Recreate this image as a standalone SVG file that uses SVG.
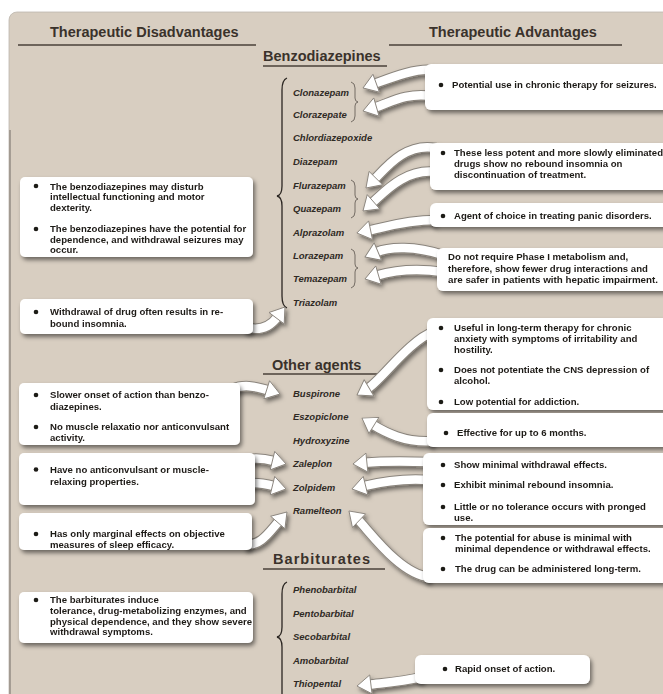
<svg xmlns="http://www.w3.org/2000/svg" width="663" height="694" viewBox="0 0 663 694">
<defs>
<style>
.h{font-family:"Liberation Sans",Arial,sans-serif;font-weight:bold;font-size:14.5px;fill:#3a322b}
.d{font-family:"Liberation Sans",Arial,sans-serif;font-weight:bold;font-style:italic;font-size:9.5px;fill:#2f2a25}
.t{font-family:"Liberation Sans",Arial,sans-serif;font-weight:bold;font-size:9.6px;fill:#1e1a17}
.ul{stroke:#4a4038;stroke-width:1.4}
.br{fill:none;stroke:#2b2622;stroke-width:1.3}
.sb{fill:none;stroke:#5a534c;stroke-width:0.8}
.box{fill:#ffffff}
.bu{fill:#1e1a17}
.ao{fill:none;stroke:#8a847c;stroke-width:10.5}
.af{fill:none;stroke:#ffffff;stroke-width:8.5;marker-end:url(#ah)}
</style>
<marker id="ah" markerUnits="userSpaceOnUse" orient="auto" refX="2" refY="0" markerWidth="16" markerHeight="22" overflow="visible">
<path d="M0,-9.5 L14,0 L0,9.5 Z" fill="#ffffff" stroke="#8a847c" stroke-width="0.9" stroke-linejoin="round"/>
</marker>
<filter id="sh" x="-10%" y="-20%" width="130%" height="160%">
<feDropShadow dx="2" dy="3" stdDeviation="2.2" flood-color="#000" flood-opacity="0.5"/>
</filter>
</defs>
<rect x="0" y="0" width="663" height="694" fill="#ffffff"/>
<rect x="9" y="12" width="680" height="700" rx="8" fill="#d8cec1" stroke="#bdb6ad" stroke-width="0.8"/>
<line x1="10" y1="130" x2="10" y2="694" stroke="#958d84" stroke-width="1.5"/>

<g id="headers">
<text class="h" x="50" y="37">Therapeutic Disadvantages</text>
<line class="ul" x1="18" y1="45" x2="256" y2="45"/>
<text class="h" x="429" y="37">Therapeutic Advantages</text>
<line class="ul" x1="389" y1="45" x2="622" y2="45"/>
<text class="h" x="263" y="61">Benzodiazepines</text>
<line class="ul" x1="263" y1="66" x2="387" y2="66"/>
<text class="h" x="272" y="370">Other agents</text>
<line class="ul" x1="263" y1="374" x2="385" y2="374"/>
<text class="h" x="273" y="564" textLength="97">Barbiturates</text>
<line class="ul" x1="263" y1="569" x2="385" y2="569"/>
</g>

<g id="braces">
<path class="br" d="M287,78 Q282,80 282,90 L282,186 Q282,195 277,196 Q282,197 282,206 L282,296 Q282,306 287,308"/>
<path class="br" d="M287,582 Q282,584 282,594 L282,627 Q282,636 277,637 Q282,638 282,647 L282,700"/>
<path class="sb" d="M351,82 Q355,83 355,88 L355,98 Q355,101.5 358,102 Q355,102.5 355,106 L355,116 Q355,121 351,122"/>
<path class="sb" d="M351,180 Q355,181 355,186 L355,195 Q355,198.5 358,199 Q355,199.5 355,203 L355,212 Q355,217 351,218"/>
<path class="sb" d="M351,249 Q355,250 355,255 L355,264 Q355,267.5 358,268 Q355,268.5 355,272 L355,282 Q355,287 351,288"/>
</g>

<g id="drug-clonazepam"><text class="d" x="293" y="96.3">Clonazepam</text></g>
<g id="drug-clorazepate"><text class="d" x="293" y="118.3">Clorazepate</text></g>
<g id="drug-chlordiazepoxide"><text class="d" x="293" y="141.3">Chlordiazepoxide</text></g>
<g id="drug-diazepam"><text class="d" x="293" y="165.3">Diazepam</text></g>
<g id="drug-flurazepam"><text class="d" x="293" y="189.3">Flurazepam</text></g>
<g id="drug-quazepam"><text class="d" x="293" y="212.3">Quazepam</text></g>
<g id="drug-alprazolam"><text class="d" x="293" y="236.3">Alprazolam</text></g>
<g id="drug-lorazepam"><text class="d" x="293" y="259.3">Lorazepam</text></g>
<g id="drug-temazepam"><text class="d" x="293" y="282.3">Temazepam</text></g>
<g id="drug-triazolam"><text class="d" x="293" y="306.3">Triazolam</text></g>
<g id="drug-buspirone"><text class="d" x="293" y="397.3">Buspirone</text></g>
<g id="drug-eszopiclone"><text class="d" x="293" y="420.3">Eszopiclone</text></g>
<g id="drug-hydroxyzine"><text class="d" x="293" y="444.3">Hydroxyzine</text></g>
<g id="drug-zaleplon"><text class="d" x="293" y="467.3">Zaleplon</text></g>
<g id="drug-zolpidem"><text class="d" x="293" y="491.3">Zolpidem</text></g>
<g id="drug-ramelteon"><text class="d" x="293" y="514.3">Ramelteon</text></g>
<g id="drug-phenobarbital"><text class="d" x="293" y="593.3">Phenobarbital</text></g>
<g id="drug-pentobarbital"><text class="d" x="293" y="617.3">Pentobarbital</text></g>
<g id="drug-secobarbital"><text class="d" x="293" y="640.3">Secobarbital</text></g>
<g id="drug-amobarbital"><text class="d" x="293" y="664.3">Amobarbital</text></g>
<g id="drug-thiopental"><text class="d" x="293" y="687.3">Thiopental</text></g>

<g id="connectors" filter="url(#sh)">
<g id="connector-outlines">
<path class="ao" d="M432,70 C415,68 388.4,78.8 374.3,83.9"/>
<path class="ao" d="M432,96 C405,92 388.9,103.4 374.5,107.6"/>
<path class="ao" d="M436,148 C405,142 384.9,168.9 374.4,179.5"/>
<path class="ao" d="M436,172 C405,168 383.3,193.2 372,203.1"/>
<path class="ao" d="M436,220 C405,220 383.2,227.6 368.6,230.6"/>
<path class="ao" d="M443,255 C415,246 389.8,246.5 376,252.3"/>
<path class="ao" d="M443,272 C415,268 390.9,271.4 376.5,275.6"/>
<path class="ao" d="M433,332 C410,340 380.2,381.2 367.3,388.9"/>
<path class="ao" d="M433,441 C405,443 385,432.3 372.2,424.4"/>
<path class="ao" d="M430,462 C400,461 379.8,461.3 364.9,462.8"/>
<path class="ao" d="M430,480 C405,478 378.2,482.5 363.6,486.1"/>
<path class="ao" d="M430,577 C400,575 368.4,529.7 357.6,519.3"/>
<path class="ao" d="M422,677 C400,682 383.8,682.8 368.9,684.6"/>
<path class="ao" d="M245,327 C258,331 268.8,328.6 277.8,316.6"/>
<path class="ao" d="M232,389 C243,384 254.3,385.9 268.6,390.4"/>
<path class="ao" d="M245,460 C252,458 259.8,457.5 274.4,461.1"/>
<path class="ao" d="M245,484 C252,482 259.8,482.5 274.4,486.1"/>
<path class="ao" d="M245,544 C260,547 269.2,532.3 279.1,521"/>
</g>
<g id="connector-fills">
<path class="af" d="M432,70 C415,68 388.4,78.8 374.3,83.9"/>
<path class="af" d="M432,96 C405,92 388.9,103.4 374.5,107.6"/>
<path class="af" d="M436,148 C405,142 384.9,168.9 374.4,179.5"/>
<path class="af" d="M436,172 C405,168 383.3,193.2 372,203.1"/>
<path class="af" d="M436,220 C405,220 383.2,227.6 368.6,230.6"/>
<path class="af" d="M443,255 C415,246 389.8,246.5 376,252.3"/>
<path class="af" d="M443,272 C415,268 390.9,271.4 376.5,275.6"/>
<path class="af" d="M433,332 C410,340 380.2,381.2 367.3,388.9"/>
<path class="af" d="M433,441 C405,443 385,432.3 372.2,424.4"/>
<path class="af" d="M430,462 C400,461 379.8,461.3 364.9,462.8"/>
<path class="af" d="M430,480 C405,478 378.2,482.5 363.6,486.1"/>
<path class="af" d="M430,577 C400,575 368.4,529.7 357.6,519.3"/>
<path class="af" d="M422,677 C400,682 383.8,682.8 368.9,684.6"/>
<path class="af" d="M245,327 C258,331 268.8,328.6 277.8,316.6"/>
<path class="af" d="M232,389 C243,384 254.3,385.9 268.6,390.4"/>
<path class="af" d="M245,460 C252,458 259.8,457.5 274.4,461.1"/>
<path class="af" d="M245,484 C252,482 259.8,482.5 274.4,486.1"/>
<path class="af" d="M245,544 C260,547 269.2,532.3 279.1,521"/>
</g>
</g>

<g id="box-l1" filter="url(#sh)">
<rect class="box" x="20" y="177" width="233" height="80" rx="5"/>
<circle class="bu" cx="36" cy="186" r="2.3"/>
<text class="t" x="50" y="189.5">The benzodiazepines may disturb</text>
<text class="t" x="50" y="200.3">intellectual functioning and motor</text>
<text class="t" x="50" y="211">dexterity.</text>
<circle class="bu" cx="36" cy="229" r="2.3"/>
<text class="t" x="50" y="232">The benzodiazepines have the potential for</text>
<text class="t" x="50" y="242.6">dependence, and withdrawal seizures may</text>
<text class="t" x="50" y="253">occur.</text>
</g>
<g id="box-l2" filter="url(#sh)">
<rect class="box" x="20" y="299" width="233" height="35" rx="5"/>
<circle class="bu" cx="36" cy="312" r="2.3"/>
<text class="t" x="50" y="315.3">Withdrawal of drug often results in re-</text>
<text class="t" x="50" y="326.5">bound insomnia.</text>
</g>
<g id="box-l3" filter="url(#sh)">
<rect class="box" x="19" y="383" width="221" height="62" rx="5"/>
<circle class="bu" cx="36" cy="395" r="2.3"/>
<text class="t" x="50" y="398.3">Slower onset of action than benzo-</text>
<text class="t" x="50" y="409.5">diazepines.</text>
<circle class="bu" cx="36" cy="427" r="2.3"/>
<text class="t" x="50" y="430.2">No muscle relaxatio nor anticonvulsant</text>
<text class="t" x="50" y="441.2">activity.</text>
</g>
<g id="box-l4" filter="url(#sh)">
<rect class="box" x="19" y="453" width="236" height="52" rx="5"/>
<circle class="bu" cx="36" cy="469.5" r="2.3"/>
<text class="t" x="50" y="472.7">Have no anticonvulsant or muscle-</text>
<text class="t" x="50" y="484.5">relaxing properties.</text>
</g>
<g id="box-l5" filter="url(#sh)">
<rect class="box" x="19" y="513" width="233" height="37" rx="5"/>
<circle class="bu" cx="36" cy="534" r="2.3"/>
<text class="t" x="50" y="537.4">Has only marginal effects on objective</text>
<text class="t" x="50" y="548.2">measures of sleep efficacy.</text>
</g>
<g id="box-l6" filter="url(#sh)">
<rect class="box" x="19" y="592" width="234" height="51" rx="5"/>
<circle class="bu" cx="36" cy="600" r="2.3"/>
<text class="t" x="50" y="603.4">The barbiturates induce</text>
<text class="t" x="50" y="614">tolerance, drug-metabolizing enzymes, and</text>
<text class="t" x="50" y="624.6">physical dependence, and they show severe</text>
<text class="t" x="50" y="635.2">withdrawal symptoms.</text>
</g>

<g id="box-r1" filter="url(#sh)">
<rect class="box" x="425" y="64" width="250" height="46" rx="6"/>
<circle class="bu" cx="441" cy="85" r="2.3"/>
<text class="t" x="452" y="88.4">Potential use in chronic therapy for seizures.</text>
</g>
<g id="box-r2" filter="url(#sh)">
<rect class="box" x="430" y="143" width="245" height="47" rx="6"/>
<circle class="bu" cx="443" cy="153" r="2.3"/>
<text class="t" x="454" y="156.4">These less potent and more slowly eliminated</text>
<text class="t" x="454" y="167.2">drugs show no rebound insomnia on</text>
<text class="t" x="454" y="178">discontinuation of  treatment.</text>
</g>
<g id="box-r3" filter="url(#sh)">
<rect class="box" x="430" y="203" width="245" height="24" rx="6"/>
<circle class="bu" cx="443" cy="216" r="2.3"/>
<text class="t" x="454" y="219.4">Agent of choice in treating panic disorders.</text>
</g>
<g id="box-r4" filter="url(#sh)">
<rect class="box" x="437" y="248" width="238" height="43" rx="6"/>
<text class="t" x="448" y="260.4">Do not require Phase I metabolism and,</text>
<text class="t" x="448" y="271.8">therefore, show fewer drug interactions and</text>
<text class="t" x="448" y="283" textLength="210" lengthAdjust="spacingAndGlyphs">are safer in patients with hepatic impairment.</text>
</g>
<g id="box-r5" filter="url(#sh)">
<rect class="box" x="427" y="318" width="248" height="92" rx="6"/>
<circle class="bu" cx="441" cy="328" r="2.3"/>
<text class="t" x="454" y="331.4">Useful in long-term therapy for chronic</text>
<text class="t" x="454" y="342.2">anxiety with symptoms of irritability and</text>
<text class="t" x="454" y="353">hostility.</text>
<circle class="bu" cx="441" cy="370" r="2.3"/>
<text class="t" x="454" y="373.4">Does not potentiate the CNS depression of</text>
<text class="t" x="454" y="384">alcohol.</text>
<circle class="bu" cx="441" cy="402" r="2.3"/>
<text class="t" x="454" y="405.2">Low potential for addiction.</text>
</g>
<g id="box-r6" filter="url(#sh)">
<rect class="box" x="427" y="413" width="248" height="34" rx="6"/>
<circle class="bu" cx="446" cy="433" r="2.3"/>
<text class="t" x="457" y="436.4">Effective for up to 6 months.</text>
</g>
<g id="box-r7" filter="url(#sh)">
<rect class="box" x="423" y="453" width="252" height="72" rx="6"/>
<circle class="bu" cx="443" cy="465" r="2.3"/>
<text class="t" x="454" y="468.4">Show minimal withdrawal effects.</text>
<circle class="bu" cx="443" cy="485" r="2.3"/>
<text class="t" x="454" y="488.4">Exhibit minimal rebound insomnia.</text>
<circle class="bu" cx="443" cy="507" r="2.3"/>
<text class="t" x="454" y="510.4">Little or no tolerance occurs with pronged</text>
<text class="t" x="454" y="520.6">use.</text>
</g>
<g id="box-r8" filter="url(#sh)">
<rect class="box" x="423" y="528" width="252" height="55" rx="6"/>
<circle class="bu" cx="443" cy="538" r="2.3"/>
<text class="t" x="455" y="541.2">The potential for abuse is minimal with</text>
<text class="t" x="455" y="552">minimal dependence or withdrawal effects.</text>
<circle class="bu" cx="443" cy="569" r="2.3"/>
<text class="t" x="455" y="572.4">The drug can be administered long-term.</text>
</g>
<g id="box-r9" filter="url(#sh)">
<rect class="box" x="415" y="655" width="175" height="29" rx="6"/>
<circle class="bu" cx="445" cy="669" r="2.3"/>
<text class="t" x="455" y="672.4">Rapid onset of action.</text>
</g>
</svg>
